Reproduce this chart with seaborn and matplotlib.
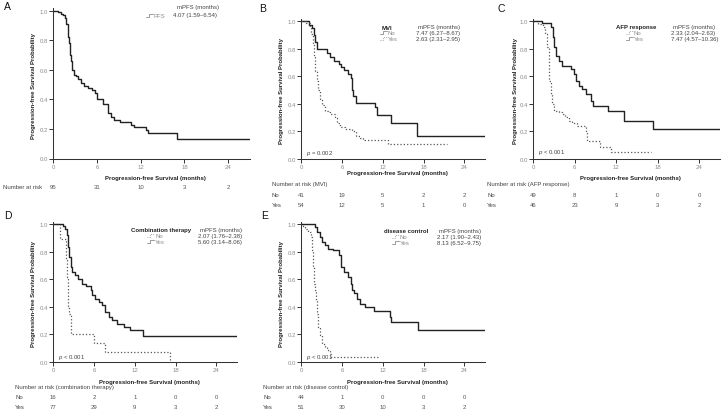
import matplotlib
matplotlib.use('Agg')
import matplotlib.pyplot as plt
from matplotlib.lines import Line2D
import seaborn as sns

# ── Data ────────────────────────────────────────────────────
a_time = [0, 0.7, 1.1, 1.4, 1.6, 1.8, 1.95, 2.05, 2.15, 2.27, 2.35, 2.45, 2.6, 2.85, 3.1, 3.4,
          3.85, 4.15, 4.75, 5.25, 5.7, 5.95, 6.85, 7.5, 7.95, 8.4, 9.1, 10.7, 11.1, 12.7, 12.95, 17.0, 27.0]
a_surv = [1.0, 0.99, 0.98, 0.97, 0.95, 0.91, 0.87, 0.82, 0.78, 0.74, 0.70, 0.66, 0.60, 0.565, 0.555, 0.535,
          0.51, 0.49, 0.48, 0.465, 0.44, 0.40, 0.37, 0.31, 0.28, 0.26, 0.245, 0.23, 0.21, 0.19, 0.17, 0.135, 0.135]

b_no_time = [0, 1.2, 1.6, 1.85, 2.05, 2.3, 3.85, 4.2, 4.85, 5.5, 5.9, 6.3, 6.9, 7.3, 7.5, 7.65, 8.1,
             10.85, 11.2, 13.15, 17.1, 27]
b_no_surv = [1.0, 0.975, 0.95, 0.90, 0.85, 0.80, 0.77, 0.74, 0.715, 0.69, 0.665, 0.645, 0.62, 0.59, 0.50,
             0.46, 0.41, 0.375, 0.32, 0.26, 0.17, 0.17]
b_yes_time = [0, 0.75, 1.25, 1.5, 1.72, 1.87, 2.07, 2.27, 2.46, 2.71, 3.05, 3.45, 3.95, 4.2, 4.95, 5.3,
              5.65, 6.4, 7.4, 8.1, 8.6, 9.1, 12.7, 21.4]
b_yes_surv = [1.0, 0.985, 0.955, 0.91, 0.835, 0.74, 0.64, 0.57, 0.50, 0.435, 0.39, 0.35, 0.34, 0.325,
              0.30, 0.265, 0.23, 0.215, 0.20, 0.17, 0.155, 0.135, 0.11, 0.11]

c_no_time = [0, 0.73, 1.37, 1.71, 1.95, 2.2, 2.34, 2.54, 2.73, 2.93, 3.66, 4.15, 4.63, 5.12, 5.61, 6.34,
             7.56, 7.8, 9.66, 11.3, 16.97]
c_no_surv = [1.0, 0.98, 0.956, 0.908, 0.811, 0.69, 0.569, 0.472, 0.40, 0.351, 0.339, 0.327, 0.303, 0.278,
             0.259, 0.242, 0.206, 0.133, 0.09, 0.048, 0.048]
c_yes_time = [0, 1.22, 2.54, 2.83, 3.02, 3.32, 3.66, 4.15, 5.46, 5.85, 6.2, 6.59, 7.07, 7.56, 8.29, 8.63,
              10.83, 13.17, 17.3, 27]
c_yes_surv = [1.0, 0.985, 0.956, 0.884, 0.811, 0.75, 0.714, 0.678, 0.654, 0.617, 0.569, 0.533, 0.508,
              0.472, 0.424, 0.387, 0.351, 0.278, 0.218, 0.218]

d_no_time = [0, 0.99, 1.82, 1.97, 2.22, 2.36, 2.56, 6.0, 7.64, 17.24]
d_no_surv = [1.0, 0.896, 0.74, 0.62, 0.41, 0.35, 0.206, 0.138, 0.069, 0.0]
d_yes_time = [0, 1.38, 1.72, 1.97, 2.22, 2.36, 2.56, 2.81, 3.2, 3.69, 4.19, 4.83, 5.52, 5.7, 6.16, 6.8,
              7.14, 7.64, 8.13, 8.62, 9.36, 10.34, 11.33, 13.15, 27]
d_yes_surv = [1.0, 0.985, 0.969, 0.92, 0.835, 0.763, 0.69, 0.654, 0.63, 0.605, 0.569, 0.55, 0.525, 0.49,
              0.46, 0.436, 0.412, 0.363, 0.327, 0.303, 0.278, 0.254, 0.23, 0.186, 0.186]

e_no_time = [0, 0.25, 0.49, 0.99, 1.38, 1.58, 1.72, 1.87, 2.0, 2.17, 2.3, 2.46, 2.71, 3.05, 3.45, 3.84,
             4.19, 4.43, 11.33]
e_no_surv = [1.0, 0.985, 0.969, 0.944, 0.908, 0.811, 0.69, 0.569, 0.52, 0.45, 0.35, 0.254, 0.194, 0.133,
             0.109, 0.085, 0.06, 0.036, 0.036]
e_yes_time = [0, 2.07, 2.36, 2.71, 3.05, 3.45, 3.94, 4.68, 5.52, 5.81, 6.3, 6.9, 7.29, 7.49, 7.78, 8.13,
              8.62, 9.36, 10.74, 13.05, 13.2, 17.14, 27]
e_yes_surv = [1.0, 0.98, 0.944, 0.908, 0.872, 0.847, 0.823, 0.811, 0.775, 0.69, 0.654, 0.617, 0.569, 0.52,
              0.50, 0.46, 0.424, 0.40, 0.37, 0.327, 0.29, 0.235, 0.235]

risk_ticks = [0, 6, 12, 18, 24]
a_risk = [95, 31, 10, 3, 2]
b_risk_no, b_risk_yes = [41, 19, 5, 2, 2], [54, 12, 5, 1, 0]
c_risk_no, c_risk_yes = [49, 8, 1, 0, 0], [46, 23, 9, 3, 2]
d_risk_no, d_risk_yes = [16, 2, 1, 0, 0], [77, 29, 9, 3, 2]
e_risk_no, e_risk_yes = [44, 1, 0, 0, 0], [51, 30, 10, 3, 2]

# ── Style ───────────────────────────────────────────────────
sns.set_style('ticks')
plt.rcParams['font.family'] = ['Liberation Sans', 'DejaVu Sans']
plt.rcParams['mathtext.fontset'] = 'custom'
plt.rcParams['mathtext.it'] = 'Liberation Sans:italic'
plt.rcParams['mathtext.rm'] = 'Liberation Sans'

W, H = 723, 414
XMAX, YTOP = 27, 1.015
GRAY = '#8c8c8c'
DARK = '#222222'
MID = '#444444'
FS = 4.3

fig = plt.figure(figsize=(W / 100, H / 100), dpi=100)
fig.patch.set_facecolor('white')


def txt(x, y, s, **kw):
    kw.setdefault('fontsize', FS)
    kw.setdefault('va', 'center')
    fig.text(x / W, 1 - y / H, s, **kw)


def step_icon(x, y, ls):
    xs = [x, x + 3, x + 3, x + 7]
    ys = [y + 1.5, y + 1.5, y - 1.5, y - 1.5]
    fig.add_artist(Line2D([v / W for v in xs], [1 - v / H for v in ys], transform=fig.transFigure,
                          color=GRAY, lw=0.6, ls=ls))


def make_axes(l, r, t, b):
    top = t - (YTOP - 1) * (b - t)
    ax = fig.add_axes([l / W, 1 - b / H, (r - l) / W, (b - top) / H])
    ax.set_xlim(0, XMAX)
    ax.set_ylim(0, YTOP)
    ax.set_xticks(risk_ticks)
    ax.set_yticks([0, 0.2, 0.4, 0.6, 0.8, 1.0])
    ax.set_yticklabels(['0.0', '0.2', '0.4', '0.6', '0.8', '1.0'])
    ax.tick_params(length=2.6, width=0.7, pad=1.3, labelsize=FS, labelcolor=GRAY, color='#333333')
    for side in ['top', 'right']:
        ax.spines[side].set_visible(False)
    for side in ['left', 'bottom']:
        ax.spines[side].set_linewidth(0.75)
        ax.spines[side].set_color('#333333')
    ax.set_xlabel('')
    ax.set_ylabel('')
    ax.set_facecolor('white')
    return ax


def curve(ax, t, s, dotted=False):
    sns.lineplot(x=t, y=s, ax=ax, drawstyle='steps-post', estimator=None,
                 color='#555555' if dotted else DARK, lw=0.9 if dotted else 1.0,
                 ls=':' if dotted else '-')


def risk_row(l, r, y, counts):
    for tk, n in zip(risk_ticks, counts):
        txt(l + tk / XMAX * (r - l), y, str(n), ha='center', color='#555555')


def legend(hx, ix, vx, y0, title, rows):
    # title right-aligned before the value column, rows below
    txt(hx, y0, title, ha='right', fontweight='bold', color=DARK)
    txt(vx + 2, y0, 'mPFS (months)', ha='left', color=MID)
    for i, (name, ls, val) in enumerate(rows):
        y = y0 + 5.8 * (i + 1)
        step_icon(ix, y, ls)
        txt(ix + 8, y, name, ha='left', color=GRAY)
        txt(vx, y, val, ha='left', color=MID)


panels = [
    dict(key='A', box=(53.3, 250, 11.7, 159.5), lx=4, ly=7.5, yl=33, xl=179),
    dict(key='B', box=(301.3, 484.7, 22.3, 160), lx=259, ly=8.5, yl=282, xl=174),
    dict(key='C', box=(533.3, 720, 22.3, 160), lx=498, ly=8.5, yl=515, xl=179),
    dict(key='D', box=(53.3, 236.7, 225.3, 363), lx=4, ly=216, yl=33, xl=383),
    dict(key='E', box=(301.3, 484.7, 225.3, 363), lx=261, ly=216, yl=282, xl=383),
]

axes = {}
for p in panels:
    l, r, t, b = p['box']
    ax = make_axes(l, r, t, b)
    axes[p['key']] = ax
    txt(p['lx'], p['ly'], p['key'], fontsize=7.5, ha='left', color='#111111')
    txt(p['yl'], (t + b) / 2, 'Progression-free Survival Probability', rotation=90, ha='center',
        fontweight='bold', color=DARK)
    txt((l + r) / 2 + 4, p['xl'], 'Progression-free Survival (months)', ha='center',
        fontweight='bold', color=DARK)

# ── A ───────────────────────────────────────────────────────
curve(axes['A'], a_time, a_surv)
txt(177, 7, 'mPFS (months)', ha='left', color=MID)
step_icon(146, 16, '-')
txt(154, 16, 'PFS', ha='left', color=GRAY)
txt(173, 16, '4.07 (1.59–6.54)', ha='left', color=MID)
txt(3, 188, 'Number at risk', ha='left', color=MID)
risk_row(53.3, 250, 188, a_risk)

# ── B ───────────────────────────────────────────────────────
curve(axes['B'], b_no_time, b_no_surv)
curve(axes['B'], b_yes_time, b_yes_surv, dotted=True)
legend(392, 380, 416, 28, 'MVI', [('No', '-', '7.47 (6.27–8.67)'), ('Yes', ':', '2.63 (2.31–2.95)')])
txt(306, 154, '$p$ = 0.002', ha='left', color=MID)
txt(272, 185, 'Number at risk (MVI)', ha='left', color=MID)
txt(272, 196, 'No', ha='left', color=MID)
txt(272, 206, 'Yes', ha='left', color=MID)
risk_row(301.3, 484.7, 196, b_risk_no)
risk_row(301.3, 484.7, 206, b_risk_yes)

# ── C ───────────────────────────────────────────────────────
curve(axes['C'], c_no_time, c_no_surv, dotted=True)
curve(axes['C'], c_yes_time, c_yes_surv)
legend(656, 626, 671, 27.5, 'AFP response', [('No', ':', '2.33 (2.04–2.63)'), ('Yes', '-', '7.47 (4.57–10.36)')])
txt(538, 153, '$p$ < 0.001', ha='left', color=MID)
txt(487, 185, 'Number at risk (AFP response)', ha='left', color=MID)
txt(487, 196, 'No', ha='left', color=MID)
txt(487, 206, 'Yes', ha='left', color=MID)
risk_row(533.3, 720, 196, c_risk_no)
risk_row(533.3, 720, 206, c_risk_yes)

# ── D ───────────────────────────────────────────────────────
curve(axes['D'], d_no_time, d_no_surv, dotted=True)
curve(axes['D'], d_yes_time, d_yes_surv)
legend(191, 147, 198, 230.5, 'Combination therapy', [('No', ':', '2.07 (1.76–2.38)'), ('Yes', '-', '5.60 (3.14–8.06)')])
txt(58, 358, '$p$ < 0.001', ha='left', color=MID)
txt(15, 387.5, 'Number at risk (combination therapy)', ha='left', color=MID)
txt(15, 398, 'No', ha='left', color=MID)
txt(15, 408, 'Yes', ha='left', color=MID)
risk_row(53.3, 236.7, 398, d_risk_no)
risk_row(53.3, 236.7, 408, d_risk_yes)

# ── E ───────────────────────────────────────────────────────
curve(axes['E'], e_no_time, e_no_surv, dotted=True)
curve(axes['E'], e_yes_time, e_yes_surv)
legend(428, 392, 437, 231.5, 'disease control', [('No', ':', '2.17 (1.90–2.43)'), ('Yes', '-', '8.13 (6.52–9.75)')])
txt(306, 357, '$p$ < 0.001', ha='left', color=MID)
txt(263, 387.5, 'Number at risk (disease control)', ha='left', color=MID)
txt(263, 398, 'No', ha='left', color=MID)
txt(263, 408, 'Yes', ha='left', color=MID)
risk_row(301.3, 484.7, 398, e_risk_no)
risk_row(301.3, 484.7, 408, e_risk_yes)

fig.savefig('out.png', dpi=100, facecolor='white')
